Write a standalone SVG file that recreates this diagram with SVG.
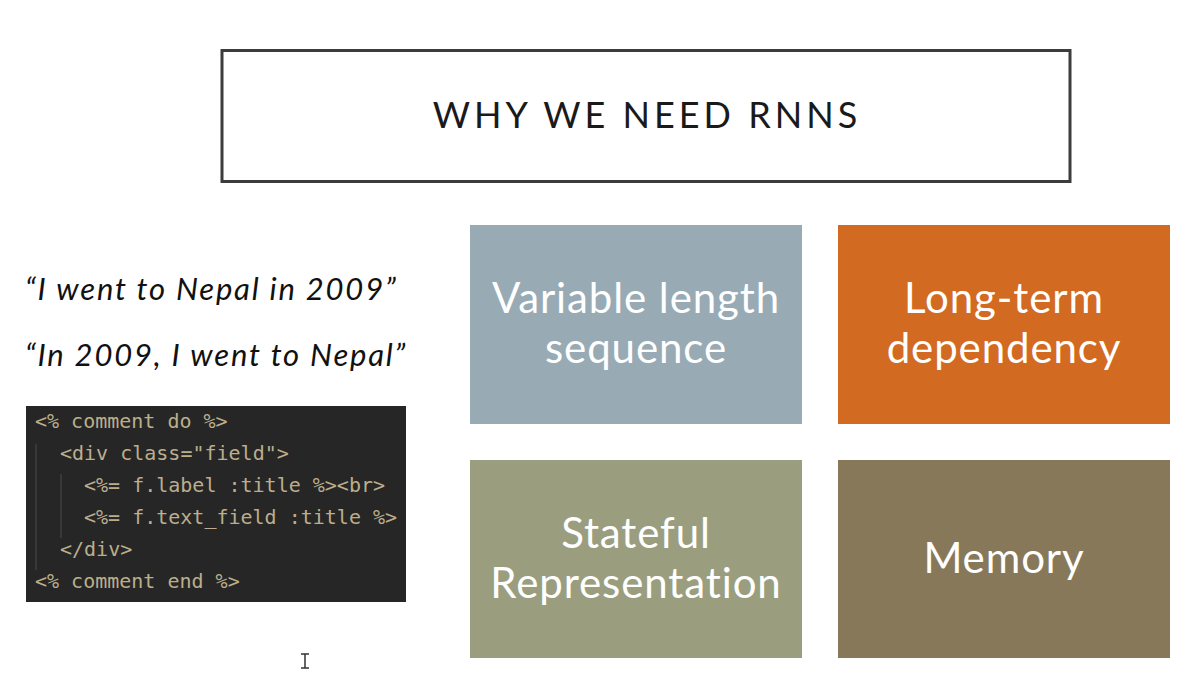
<svg xmlns="http://www.w3.org/2000/svg" width="1200" height="689" viewBox="0 0 1200 689">
<style>
.box text{font-family:Lato,"Open Sans",sans-serif;font-size:42px;letter-spacing:0.9px;fill:#ffffff;text-anchor:middle;font-variant-ligatures:none}
.quote{font-family:Lato,"Open Sans",sans-serif;font-style:italic;font-size:31px;letter-spacing:1.8px;fill:#111111}
.code{font-family:"DejaVu Sans Mono","Liberation Mono",monospace;font-size:20px;fill:#bcae8c}
.guide{stroke:#4a4a4a;stroke-width:1}
</style>
<rect width="1200" height="689" fill="#ffffff"/>
<g id="title">
<rect x="222" y="50.5" width="848" height="131" fill="#ffffff" stroke="#3c3c3c" stroke-width="3"/>
<text x="647" y="128" font-family="Lato,'Open Sans',sans-serif" font-size="36" letter-spacing="4" fill="#1a1a1a" text-anchor="middle">WHY WE NEED RNNS</text>
</g>
<g id="quotes">
<text class="quote" x="25" y="300">“I went to Nepal in 2009”</text>
<text class="quote" x="25" y="366" letter-spacing="1.5">“In 2009, I went to Nepal”</text>
</g>
<g id="code">
<rect x="26" y="406" width="380" height="196" fill="#262626"/>
<line class="guide" x1="36" y1="444" x2="36" y2="570"/>
<line class="guide" x1="61" y1="474" x2="61" y2="538"/>
<text class="code" x="35" y="428">&lt;% comment do %&gt;</text>
<text class="code" x="60" y="460">&lt;div class="field"&gt;</text>
<text class="code" x="84" y="492">&lt;%= f.label :title %&gt;&lt;br&gt;</text>
<text class="code" x="84" y="524">&lt;%= f.text_field :title %&gt;</text>
<text class="code" x="60" y="556">&lt;/div&gt;</text>
<text class="code" x="35" y="588">&lt;% comment end %&gt;</text>
</g>
<g id="variable" class="box">
<rect x="470" y="225" width="332" height="199" fill="#98abb5"/>
<text x="636" y="313">Variable length</text>
<text x="636" y="363">sequence</text>
</g>
<g id="longterm" class="box">
<rect x="838" y="225" width="332" height="199" fill="#d36a21"/>
<text x="1004" y="313">Long-term</text>
<text x="1004" y="363">dependency</text>
</g>
<g id="stateful" class="box">
<rect x="470" y="460" width="332" height="198" fill="#9a9e7f"/>
<text x="636" y="548">Stateful</text>
<text x="636" y="598">Representation</text>
</g>
<g id="memory" class="box">
<rect x="838" y="460" width="332" height="198" fill="#877859"/>
<text x="1004" y="573">Memory</text>
</g>
<g id="cursor" stroke="#333333" stroke-width="1.5" fill="none">
<path d="M301 654 H309 M305 654 V668 M301 668 H309"/>
</g>
</svg>
